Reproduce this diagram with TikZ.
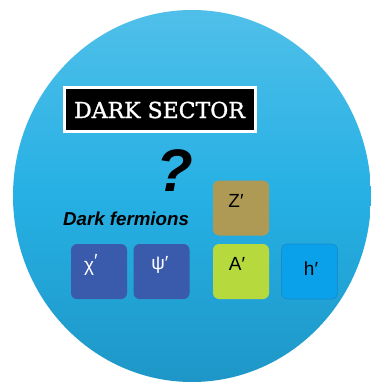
\documentclass[tikz,border=0pt]{standalone}
\usepackage{fontspec}
\setmainfont{Liberation Sans}
\newfontfamily\typefont[FakeBold=1.3]{DejaVu Serif}
\definecolor{skytop}{RGB}{120,207,238}
\definecolor{skymid}{RGB}{38,176,228}
\definecolor{skylow}{RGB}{26,138,185}
\definecolor{skybot}{RGB}{18,110,150}
\definecolor{fermion}{RGB}{58,90,172}
\definecolor{zcol}{RGB}{174,154,84}
\definecolor{acol}{RGB}{182,217,62}
\definecolor{hcol}{RGB}{10,160,234}
% vertical sky gradient, listed from bottom to top over the 100bp shading square
\pgfdeclareverticalshading{sky}{100bp}{%
  color(0bp)=(skybot); color(12.6bp)=(skylow); color(50bp)=(skymid); color(100bp)=(skytop)}
\tikzset{
  particle/.style={rounded corners=6pt, minimum width=56pt, minimum height=55pt},
  plabel/.style={font=\fontsize{19}{19}\selectfont, inner sep=0pt},
}
\begin{document}
\begin{tikzpicture}[x=1pt,y=-1pt]
\useasboundingbox (0,0) rectangle (370,382);
\fill[white] (0,0) rectangle (370,382);
% the sector as a shaded disc
\shade[shading=sky] (192,196) ellipse [x radius=179, y radius=186];
% title plate
\node[fill=black, draw=white, line width=3pt, minimum width=191pt, minimum height=44pt, inner sep=0pt]
  (title) at (159.5,110) {\typefont\fontsize{22}{22}\selectfont\color{white}DARK SECTOR};
\node[font=\fontsize{60}{60}\selectfont\bfseries\itshape, inner sep=0pt] (q) at (175,171) {?};
\node[font=\fontsize{18.7}{19}\selectfont\bfseries\itshape, inner sep=0pt, anchor=base west] (df) at (63,225) {Dark fermions};
% particle tiles
\node[particle, fill=fermion] (chi) at (99,271.5) {};
\node[particle, fill=fermion] (psi) at (161.5,271.5) {};
\node[particle, fill=zcol] (z) at (241,208) {};
\node[particle, fill=acol] (a) at (241,271.5) {};
\node[particle, fill=hcol, draw={rgb,255:red,20;green,140;blue,205}, line width=0.6pt] (h) at (309.5,271.5) {};
\node[plabel, white] (chil) at (91,265) {χ\raisebox{4pt}{′}};
\node[plabel, white] (psil) at (160,265) {ψ′};
\node[plabel] (zl) at (236,201) {Z′};
\node[plabel] (al) at (237,263.5) {A′};
\node[plabel] (hl) at (311,268.5) {h′};
\end{tikzpicture}
\end{document}
